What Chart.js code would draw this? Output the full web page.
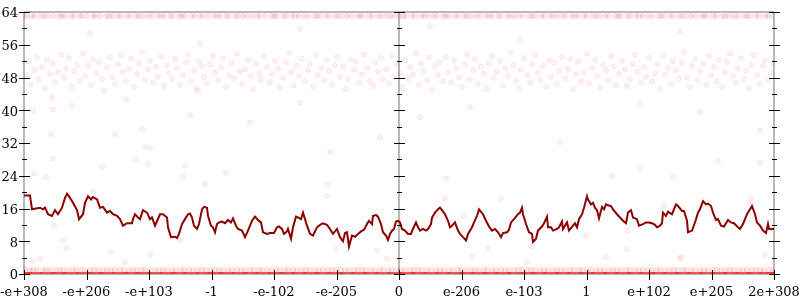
<!DOCTYPE html>
<html>
<head>
<meta charset="utf-8">
<script src="https://cdn.jsdelivr.net/npm/chart.js@4"></script>
<style>
  html, body { margin: 0; padding: 0; background: #fff; }
  #wrap { width: 800px; height: 300px; position: relative; }
</style>
</head>
<body>
<div id="wrap"><canvas id="floatChart"></canvas></div>
<script>
// x = sample index (0..750), labels sit on every 62.5 samples
const xLabels = ["-e+308", "-e+206", "-e+103", "-1", "-e-102", "-e-205", "0", "e-206", "e-103", "1", "e+102", "e+205", "2e+308"];
const sampleMax = 750;

// moving average (dark red line)
const lineX = [0,6,8,12,16,19,21,24,28,31,34,38,41,43,46,49,53,55,59,61,64,67,69,73,76,79,83,86,89,93,96,99,103,108,109,111,114,116,119,123,126,128,131,136,139,143,144,147,151,153,155,158,161,164,166,168,170,173,175,178,180,183,184,187,189,191,193,195,198,201,204,207,209,212,214,218,221,224,228,231,234,237,239,243,246,250,253,255,258,260,263,264,267,269,272,274,277,279,281,283,286,289,293,296,299,303,306,309,313,316,319,321,323,325,328,331,334,337,340,343,345,348,349,352,354,357,359,362,364,366,368,370,372,374,376,378,381,384,387,389,392,394,396,399,402,404,407,408,411,414,416,418,421,424,426,428,431,434,436,439,442,444,448,450,453,455,457,459,462,465,468,471,474,477,479,483,485,487,490,494,496,498,499,502,505,508,509,512,514,518,520,523,524,527,529,533,535,538,539,543,545,549,551,553,555,558,560,563,564,567,569,571,573,575,578,580,582,584,587,589,593,596,599,602,604,607,609,613,615,619,622,625,628,631,633,636,638,639,642,644,648,652,654,658,660,663,664,668,671,674,676,679,682,684,687,689,692,694,697,700,704,707,710,714,716,719,723,726,728,731,733,736,739,742,744,745,748,750];
const lineY = [19.2,19.2,15.8,16.0,16.2,15.8,16.2,14.6,14.2,15.6,14.6,16.2,18.6,19.6,18.6,17.4,15.6,13.4,14.6,17.4,19.0,18.2,18.8,18.2,16.2,16.4,15.0,15.4,14.6,14.2,13.4,11.8,12.4,12.4,13.4,14.6,13.8,13.4,15.6,15.0,13.4,13.8,11.8,14.6,14.6,13.8,11.4,9.0,9.1,8.8,9.8,12.2,13.4,14.6,14.8,13.8,11.8,11.0,12.2,15.8,16.4,16.2,14.2,11.8,11.4,10.2,12.2,12.6,12.8,12.4,13.2,12.6,13.6,11.8,11.0,10.6,9.0,10.6,13.0,14.0,13.2,12.6,10.2,9.8,10.0,10.0,11.4,11.6,11.0,9.8,10.4,11.0,8.6,11.4,14.0,13.8,13.4,15.0,13.4,11.8,9.8,9.4,11.4,12.0,12.4,12.0,11.0,9.8,11.0,9.0,8.0,10.0,10.2,6.7,9.4,9.1,9.8,10.4,10.8,12.2,13.0,12.2,14.2,14.4,14.0,12.2,10.2,9.4,8.3,9.8,10.6,11.0,12.8,13.0,12.6,11.0,10.6,9.8,9.8,11.0,12.6,11.4,10.6,11.0,10.6,11.0,12.2,13.8,15.0,15.8,16.2,15.6,14.6,13.0,11.4,11.8,12.6,10.6,9.8,9.0,8.2,9.8,11.4,12.6,14.2,15.8,15.2,14.6,13.0,11.6,10.6,11.0,10.2,9.0,10.0,10.2,10.8,12.6,13.4,14.6,15.0,16.2,14.6,12.2,10.2,9.8,7.8,8.6,10.6,11.6,12.4,14.0,11.4,11.4,10.6,11.0,11.4,12.8,11.0,12.6,10.6,11.8,12.4,11.4,13.4,14.6,16.2,19.0,18.2,17.0,17.4,16.2,15.6,13.6,16.4,15.8,17.0,16.8,16.6,15.8,14.6,13.8,13.0,12.4,15.0,15.6,13.8,13.4,11.8,12.2,12.6,12.6,12.4,12.0,11.4,11.8,12.4,15.0,14.2,15.2,14.6,17.0,16.6,15.4,15.4,13.0,10.2,10.6,12.6,15.0,15.8,17.8,17.0,17.2,16.6,15.0,13.2,13.4,11.8,11.6,13.2,12.6,12.4,11.4,11.0,12.2,14.6,15.8,16.6,14.6,12.6,11.8,10.6,10.0,12.2,11.0,11.0,11.0];

// samples that landed on 63
const topRowX = [0,3,8,11,17,20,24,29,35,38,41,47,50,56,58,63,69,71,76,82,85,89,94,97,103,106,112,115,119,124,128,134,137,140,146,149,155,158,161,167,171,176,179,184,190,193,196,202,205,211,214,219,223,228,233,236,241,247,250,253,259,262,268,271,275,280,284,290,293,296,302,305,311,314,318,323,327,333,336,339,345,348,354,357,362,366,370,375,379,382,388,391,397,400,404,409,413,419,422,425,431,434,440,443,447,452,456,462,465,468,474,477,483,486,490,495,499,505,508,511,517,520,526,529,533,538,542,548,551,554,560,563,569,572,576,581,585,591,594,597,603,606,612,615,619,624,628,634,637,640,646,649,655,658,662,667,671,677,680,683,689,692,698,701,705,710,714,720,723,726,732,735,741,744,749];

// samples that landed on 1
const oneRowX = [1,6,9,13,19,22,26,32,36,39,44,49,52,57,61,66,70,74,79,83,87,91,96,100,105,109,113,118,121,126,131,135,139,143,148,152,157,160,165,169,174,178,182,187,191,195,199,204,208,213,217,221,226,230,235,238,243,248,252,256,261,264,269,273,278,282,286,291,295,299,304,308,312,317,321,325,330,334,338,342,347,351,356,359,364,368,373,377,381,386,390,394,398,403,407,412,416,420,425,429,434,437,442,447,451,455,460,463,468,472,477,481,485,490,494,498,503,507,511,516,520,524,529,533,537,541,546,550,555,558,563,567,572,576,580,585,589,593,597,602,606,611,615,619,624,628,633,636,641,646,650,654,659,662,667,671,676,680,684,689,693,697,702,706,710,715,719,723,728,732,736,740,745,749];

// samples that landed on 0
const zeroX = [0,11,24,35,47,60,71,83,96,108,119,131,144,155,167,180,191,203,216,227,239,252,263,275,287,299,311,323,335,347,359,371,383,395,407,419,431,443,455,467,479,491,503,515,527,539,551,563,575,587,599,611,623,635,647,659,671,683,695,707,719,731,743,750];

// the 45..54 cloud
const cloudX = [2,5,7,10,13,15,18,21,23,26,29,31,34,37,40,42,45,48,50,53,56,59,61,64,67,69,72,75,78,80,83,86,88,91,94,97,99,102,105,107,110,113,115,118,121,124,126,129,132,134,137,140,143,145,148,151,153,156,159,162,164,167,170,172,175,178,180,183,186,189,191,194,197,199,202,205,208,210,213,216,218,221,224,227,229,232,235,237,240,243,246,248,251,254,256,259,262,265,267,270,273,275,278,281,284,286,289,292,294,297,300,303,305,308,311,313,316,319,322,324,327,330,332,335,338,340,343,346,349,351,354,357,359,362,365,368,370,373,376,378,381,384,386,389,392,395,397,400,403,405,408,411,414,416,419,422,424,427,430,432,435,438,441,443,446,449,451,454,457,460,462,465,468,470,473,476,479,481,484,487,489,492,495,497,500,503,506,508,511,514,516,519,522,525,527,530,533,535,538,541,544,546,549,552,554,557,560,563,565,568,571,573,576,579,582,584,587,590,592,595,598,601,603,606,609,611,614,617,620,622,625,628,631,633,636,639,641,644,647,649,652,655,658,660,663,666,668,671,674,676,679,682,685,687,690,693,695,698,701,703,706,709,712,714,717,720,722,725,728,730,733,736,739,741,744,747,749];
const cloudY = [48.6,51.9,46.3,49.8,53.0,47.5,50.7,45.3,52.2,48.9,51.4,46.8,49.3,53.6,47.9,50.2,52.8,45.8,49.6,51.1,47.2,53.9,48.4,50.9,46.1,52.4,49.0,51.8,47.7,44.9,50.5,52.9,48.1,46.5,51.3,53.4,49.4,47.0,50.1,52.6,45.6,48.8,51.5,54.2,47.4,49.9,52.1,46.7,50.6,48.2,53.1,45.9,51.0,49.1,47.6,52.5,50.3,46.2,48.7,51.7,53.7,47.1,49.7,45.4,52.0,50.8,48.0,46.6,51.2,53.3,49.2,47.3,50.4,52.7,45.7,48.5,51.6,47.8,53.8,49.5,46.4,50.0,52.3,48.3,45.1,51.4,49.0,47.5,53.2,50.6,46.9,48.9,52.0,50.1,45.5,47.9,51.8,54.0,49.3,46.0,50.9,48.4,52.6,47.1,49.8,51.3,45.8,53.5,48.6,50.2,47.4,52.2,49.6,46.3,51.0,53.0,48.1,50.7,45.2,47.7,52.4,49.9,51.9,46.7,48.8,53.6,50.4,47.0,45.9,51.6,49.4,52.8,47.6,50.0,46.5,53.4,48.2,51.1,49.0,45.6,52.1,47.8,50.5,48.7,53.9,46.2,51.5,49.7,47.3,52.9,45.0,50.8,48.5,51.7,47.1,53.1,49.2,46.8,52.3,50.3,48.0,45.7,51.2,53.7,47.5,49.8,52.5,46.4,50.6,48.9,45.3,51.4,53.3,47.9,49.5,52.0,46.0,50.2,48.3,54.1,51.0,47.2,45.4,49.9,52.7,48.6,46.9,51.3,53.5,49.1,47.4,50.9,45.8,52.2,48.1,51.6,46.3,49.6,53.0,47.7,50.1,52.6,45.1,48.8,51.8,47.0,49.3,53.8,46.6,50.4,52.4,48.4,45.5,51.1,49.7,47.3,53.2,50.7,46.1,48.9,52.1,50.0,45.9,47.6,51.5,53.6,49.4,46.7,50.5,48.2,52.8,47.1,49.0,51.2,45.2,53.3,48.7,50.3,46.4,52.0,49.8,47.8,51.7,54.3,48.0,45.6,50.8,52.5,47.4,49.5,51.3,46.2,53.1,48.5,50.6,47.0,52.3,45.7,49.2,51.9,53.9,48.3,46.8,50.2,52.7,47.7,49.7,45.3,51.0,53.4,48.6,46.5,50.9,52.2,47.2,49.1,51.4];

// stray samples elsewhere
const strayX = [10,22,29,39,42,30,16,9,78,111,124,87,101,126,159,161,156,69,9,28,29,27,91,118,121,126,48,174,166,102,303,303,312,353,363,422,421,448,464,503,588,616,649,694,726,736,603,582,656,741,477,439,412,562,508,604,640,727,657,202,181,356,276,396,536,676,226,616,446,736,306,66,276,496,656,176,406];
const strayY = [24.5,23.8,28.2,8.2,6.3,11.8,3.8,3.1,26.2,27.9,26.9,5.3,2.9,4.8,23.8,26.5,8.2,20.2,40.0,43.0,40.2,34.2,34.2,35.4,31.0,30.8,41.1,44.8,38.7,42.6,21.9,19.0,6.0,5.8,3.8,23.3,18.5,4.3,6.3,2.9,23.8,25.5,23.8,27.7,17.3,27.2,6.0,4.3,3.8,4.6,18.3,14.2,14.2,9.4,6.7,10.6,16.6,18.7,4.1,24.8,21.9,33.4,41.9,38.3,32.2,39.5,37.0,41.9,40.7,35.1,29.8,58.7,59.9,57.5,59.2,56.3,60.6];

(function () {
  "use strict";

  const pts = (xs, ys) => xs.map((x, i) => ({ x, y: typeof ys === "number" ? ys : ys[i] }));

  const faint = {
    type: "scatter",
    pointRadius: 2.5,
    pointBackgroundColor: "rgba(255, 0, 0, 0.05)",
    pointBorderColor: "rgba(255, 0, 0, 0.08)",
    pointBorderWidth: 1,
    order: 2,
  };
  const band = {
    ...faint,
    pointBackgroundColor: "rgba(255, 0, 0, 0.09)",
    pointBorderColor: "rgba(255, 0, 0, 0.1)",
  };

  // gray frame under the data, black tick marks over it
  const axisFrame = {
    id: "axisFrame",
    beforeDatasetsDraw(chart) {
      const { ctx, chartArea: a, scales: { x } } = chart;
      const mid = Math.round(x.getPixelForTick(xLabels.indexOf("0")));
      ctx.save();
      ctx.strokeStyle = "#b8b8b8";
      ctx.lineWidth = 2;
      ctx.beginPath();
      ctx.moveTo(a.left, a.top); ctx.lineTo(a.right, a.top);
      ctx.moveTo(a.left, a.bottom); ctx.lineTo(a.right, a.bottom);
      [a.left, mid, a.right].forEach((px) => { ctx.moveTo(px, a.top); ctx.lineTo(px, a.bottom); });
      ctx.stroke();
      ctx.restore();
    },
    afterDatasetsDraw(chart) {
      const { ctx, chartArea: a, scales: { x, y } } = chart;
      const mid = Math.round(x.getPixelForTick(xLabels.indexOf("0")));
      ctx.save();
      ctx.strokeStyle = "#000";
      ctx.lineWidth = 1;
      ctx.beginPath();
      y.ticks.forEach((t, i) => {
        const py = Math.round(y.getPixelForValue(t.value)) + 0.5;
        [a.left, mid, a.right].forEach((px) => { ctx.moveTo(px - 5, py); ctx.lineTo(px + 6, py); });
        if (i < y.ticks.length - 1) {
          const my = Math.round(y.getPixelForValue((t.value + y.ticks[i + 1].value) / 2)) + 0.5;
          [a.left, mid, a.right].forEach((px) => { ctx.moveTo(px - 2, my); ctx.lineTo(px + 3, my); });
        }
      });
      x.ticks.forEach((t, i) => {
        const px = Math.round(x.getPixelForTick(i)) + 0.5;
        ctx.moveTo(px, a.bottom - 4); ctx.lineTo(px, a.bottom + 6);
      });
      ctx.stroke();
      ctx.restore();
    },
  };

  Chart.defaults.font.family = "'DejaVu Serif', serif";
  Chart.defaults.font.size = 13;
  Chart.defaults.color = "#000";

  new Chart(document.getElementById("floatChart"), {
    type: "scatter",
    data: {
      datasets: [
        {
          type: "line",
          label: "average",
          data: pts(lineX, lineY),
          borderColor: "#8b0000",
          borderWidth: 2,
          pointRadius: 0,
          tension: 0,
          order: 0,
        },
        {
          label: "zero",
          data: pts(zeroX, 0),
          pointStyle: "line",
          pointRadius: 8,
          pointBorderWidth: 4,
          pointBorderColor: "rgba(232, 50, 50, 0.8)",
          order: 1,
        },
        { ...band, label: "top", data: pts(topRowX, 63) },
        { ...band, label: "one", data: pts(oneRowX, 1) },
        { ...faint, label: "cloud", data: pts(cloudX, cloudY) },
        { ...faint, label: "stray", data: pts(strayX, strayY) },
      ],
    },
    options: {
      animation: false,
      responsive: true,
      maintainAspectRatio: false,
      layout: { padding: { top: 8, right: 26, left: 0, bottom: 0 } },
      plugins: { legend: { display: false }, tooltip: { enabled: false } },
      scales: {
        x: {
          type: "linear",
          min: 0,
          max: sampleMax,
          border: { display: false },
          grid: { display: false, drawTicks: false },
          afterBuildTicks: (s) => { s.ticks = xLabels.map((_, i) => ({ value: (sampleMax / (xLabels.length - 1)) * i })); },
          afterFit: (s) => { s.height = 26; s.paddingLeft = 0; s.paddingRight = 0; },
          ticks: { autoSkip: false, maxRotation: 0, padding: 11, callback: (v, i) => xLabels[i] },
        },
        y: {
          min: 0,
          max: 64,
          border: { display: false },
          grid: { display: false, drawTicks: false },
          afterFit: (s) => { s.width = 24; s.paddingTop = 0; s.paddingBottom = 0; },
          ticks: { stepSize: 8, padding: 6, labelOffset: 2 },
        },
      },
    },
    plugins: [axisFrame],
  });
})();
</script>
</body>
</html>
